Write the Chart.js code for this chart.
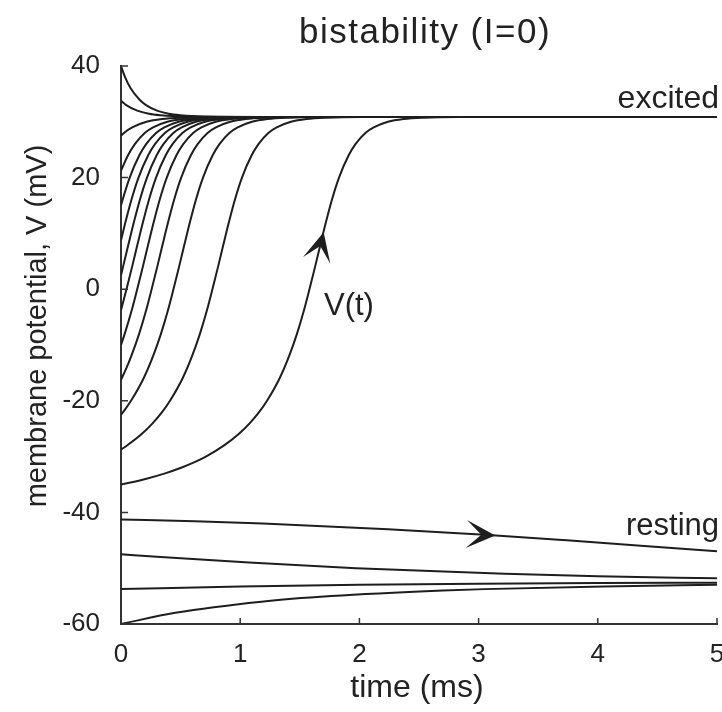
<!DOCTYPE html>
<html>
<head>
<meta charset="utf-8">
<title>bistability (I=0)</title>
<script src="https://cdn.jsdelivr.net/npm/chart.js@4.4.1/dist/chart.umd.min.js"></script>
<style>
  html, body { margin: 0; padding: 0; background: #fff; }
  #wrap { width: 722px; height: 712px; }
</style>
</head>
<body>
<div id="wrap"><canvas id="chart" width="722" height="712"></canvas></div>
<script>
// ---------------------------
// Axis ticks
// ---------------------------
const timeTicks = [0, 1, 2, 3, 4, 5];
const voltTicks = [-60, -40, -20, 0, 20, 40];

// ---------------------------
// Trajectories V(t) as [time (ms), V (mV)]
// ---------------------------
const fromV40 = [[0, 40], [0.034, 38], [0.081, 36], [0.154, 34], [0.210, 33], [0.302, 32], [0.4, 31.45], [0.5, 31.17], [0.6, 31.02], [0.8, 30.9], [1.2, 30.86], [5, 30.86]];
const fromV34 = [[0, 33.75], [0.044, 33], [0.136, 32], [0.234, 31.45], [0.334, 31.17], [0.434, 31.02], [0.634, 30.9], [1.034, 30.86], [5, 30.86]];
const fromV28 = [[0, 27.5], [0.024, 28], [0.094, 29], [0.214, 30], [0.344, 30.5], [0.514, 30.74], [0.814, 30.84], [5, 30.86]];
const fromV21 = [[0, 21.25], [0.059, 24], [0.116, 26], [0.199, 28], [0.269, 29], [0.389, 30], [0.519, 30.5], [0.689, 30.74], [0.989, 30.84], [5, 30.86]];
const fromV15 = [[0, 15], [0.013, 16], [0.073, 20], [0.154, 24], [0.211, 26], [0.294, 28], [0.364, 29], [0.484, 30], [0.614, 30.5], [0.784, 30.74], [1.084, 30.84], [5, 30.86]];
const fromV9 = [[0, 8.75], [0.037, 12], [0.087, 16], [0.147, 20], [0.228, 24], [0.285, 26], [0.368, 28], [0.438, 29], [0.558, 30], [0.688, 30.5], [0.858, 30.74], [1.158, 30.84], [5, 30.86]];
const fromV3 = [[0, 2.5], [0.017, 4], [0.062, 8], [0.108, 12], [0.158, 16], [0.218, 20], [0.299, 24], [0.356, 26], [0.439, 28], [0.509, 29], [0.629, 30], [0.759, 30.5], [0.929, 30.74], [1.229, 30.84], [5, 30.86]];
const fromVm4 = [[0, -3.75], [0.046, 0], [0.093, 4], [0.138, 8], [0.184, 12], [0.234, 16], [0.294, 20], [0.375, 24], [0.432, 26], [0.515, 28], [0.585, 29], [0.705, 30], [0.835, 30.5], [1.005, 30.74], [1.305, 30.84], [5, 30.86]];
const fromVm10 = [[0, -10], [0.031, -8], [0.087, -4], [0.136, 0], [0.183, 4], [0.228, 8], [0.274, 12], [0.324, 16], [0.384, 20], [0.465, 24], [0.522, 26], [0.605, 28], [0.675, 29], [0.795, 30], [0.925, 30.5], [1.095, 30.74], [1.395, 30.84], [5, 30.86]];
const fromVm16 = [[0, -16.25], [0.048, -14], [0.086, -12], [0.152, -8], [0.208, -4], [0.257, 0], [0.304, 4], [0.349, 8], [0.395, 12], [0.445, 16], [0.505, 20], [0.586, 24], [0.643, 26], [0.726, 28], [0.796, 29], [0.916, 30], [1.046, 30.5], [1.216, 30.74], [1.516, 30.84], [5, 30.86]];
const fromVm23 = [[0, -22.5], [0.019, -22], [0.084, -20], [0.189, -16], [0.269, -12], [0.335, -8], [0.391, -4], [0.440, 0], [0.487, 4], [0.532, 8], [0.578, 12], [0.628, 16], [0.688, 20], [0.769, 24], [0.826, 26], [0.909, 28], [0.979, 29], [1.099, 30], [1.229, 30.5], [1.399, 30.74], [1.699, 30.84], [5, 30.86]];
const fromVm29 = [[0, -28.75], [0.051, -28], [0.171, -26], [0.267, -24], [0.346, -22], [0.411, -20], [0.516, -16], [0.596, -12], [0.662, -8], [0.718, -4], [0.767, 0], [0.814, 4], [0.859, 8], [0.905, 12], [0.955, 16], [1.015, 20], [1.096, 24], [1.153, 26], [1.236, 28], [1.306, 29], [1.426, 30], [1.556, 30.5], [1.726, 30.74], [2.026, 30.84], [5, 30.86]];
const fromVm35 = [[0, -35], [0.206, -34], [0.370, -33], [0.504, -32], [0.617, -31], [0.712, -30], [0.865, -28], [0.985, -26], [1.081, -24], [1.160, -22], [1.225, -20], [1.330, -16], [1.410, -12], [1.476, -8], [1.532, -4], [1.581, 0], [1.628, 4], [1.673, 8], [1.719, 12], [1.769, 16], [1.829, 20], [1.910, 24], [1.967, 26], [2.050, 28], [2.120, 29], [2.240, 30], [2.370, 30.5], [2.540, 30.74], [2.840, 30.84], [5, 30.86]];
const fromVm41 = [[0, -41.25], [0.62, -41.6], [1.19, -42], [2.24, -43], [3.05, -44], [3.74, -45], [4.39, -46], [5, -46.97]];
const fromVm48 = [[0, -47.5], [0.333, -48], [1.075, -49], [1.972, -50], [3.218, -51], [4, -51.44], [5, -51.82]];
const fromVm54 = [[0, -53.75], [1, -53.26], [2, -52.96], [3, -52.78], [4, -52.67], [5, -52.6]];
const fromVm60 = [[0, -60], [0.455, -58], [1.178, -56], [1.764, -55], [2.70, -54], [3.05, -53.75], [4.05, -53.26], [5, -52.97]];

const trajectories = [fromV40, fromV34, fromV28, fromV21, fromV15, fromV9, fromV3, fromVm4,
    fromVm10, fromVm16, fromVm23, fromVm29, fromVm35, fromVm41, fromVm48, fromVm54, fromVm60];

// arrowheads on two trajectories: [tip t, tip V, back t, back V]
const arrowMarks = [[1.70, 10.2, 1.655, 6.3], [3.14, -44.13, 2.80, -43.76]];

// ---------------------------
// Drawing helpers
// ---------------------------
const FONT = '"Liberation Sans", Arial, Helvetica, sans-serif';
const INK = "#1e1e1e";

function drawStealth(ctx, tipX, tipY, backX, backY) {
    const ang = Math.atan2(tipY - backY, tipX - backX);
    const L = 29, W = 14, N = 15;
    ctx.save();
    ctx.translate(tipX, tipY);
    ctx.rotate(ang);
    ctx.beginPath();
    ctx.moveTo(0, 0);
    ctx.lineTo(-L, -W);
    ctx.lineTo(-L + N, 0);
    ctx.lineTo(-L, W);
    ctx.closePath();
    ctx.fill();
    ctx.restore();
}

const decorPlugin = {
    id: "decor",
    afterDraw(chart) {
        const { ctx, chartArea: a, scales: { x, y } } = chart;
        ctx.save();

        // inward tick marks
        ctx.strokeStyle = "#333";
        ctx.lineWidth = 1.5;
        ctx.beginPath();
        timeTicks.forEach(t => {
            const px = x.getPixelForValue(t);
            ctx.moveTo(px, a.bottom);
            ctx.lineTo(px, a.bottom - 6);
        });
        voltTicks.forEach(v => {
            const py = y.getPixelForValue(v);
            ctx.moveTo(a.left, py);
            ctx.lineTo(a.left + 7, py);
        });
        ctx.stroke();

        // arrowheads
        ctx.fillStyle = INK;
        arrowMarks.forEach(([t1, v1, t0, v0]) => {
            drawStealth(ctx, x.getPixelForValue(t1), y.getPixelForValue(v1),
                x.getPixelForValue(t0), y.getPixelForValue(v0));
        });

        // texts
        ctx.fillStyle = "#222";
        ctx.textBaseline = "alphabetic";

        ctx.font = `35px ${FONT}`;
        ctx.textAlign = "center";
        ctx.letterSpacing = "1.5px";
        ctx.fillText("bistability (I=0)", 425, 43);
        ctx.letterSpacing = "0px";

        ctx.font = `32px ${FONT}`;
        ctx.textAlign = "right";
        ctx.fillText("excited", 719, 108);
        ctx.font = `31px ${FONT}`;
        ctx.fillText("resting", 719, 535);
        ctx.textAlign = "left";
        ctx.fillText("V(t)", 324, 315);

        ctx.font = `32px ${FONT}`;
        ctx.textAlign = "center";
        ctx.fillText("time (ms)", 417, 697);

        ctx.save();
        ctx.translate(46, 326);
        ctx.rotate(-Math.PI / 2);
        ctx.font = `29px ${FONT}`;
        ctx.fillText("membrane potential, V (mV)", 0, 0);
        ctx.restore();

        ctx.restore();
    }
};

// ---------------------------
// Chart
// ---------------------------
const datasets = trajectories.map(tr => ({
    data: tr.map(([t, v]) => ({ x: t, y: v })),
    borderColor: INK,
    borderWidth: 2,
    pointRadius: 0,
    fill: false,
    cubicInterpolationMode: "monotone"
}));

new Chart(document.getElementById("chart").getContext("2d"), {
    type: "line",
    data: { datasets },
    plugins: [decorPlugin],
    options: {
        responsive: false,
        animation: false,
        events: [],
        layout: { padding: { top: 66, right: 5, left: 0, bottom: 0 } },
        plugins: {
            legend: { display: false },
            tooltip: { enabled: false },
            colors: { enabled: false }
        },
        scales: {
            x: {
                type: "linear",
                min: 0,
                max: 5,
                afterBuildTicks: s => { s.ticks = timeTicks.map(v => ({ value: v })); },
                grid: { display: false, drawTicks: false },
                border: { display: true, color: "#333", width: 2 },
                ticks: { padding: 15, color: "#222", font: { family: FONT, size: 26 }, maxRotation: 0, autoSkip: false },
                afterFit: s => { s.height = 88; s.paddingLeft = 0; s.paddingRight = 0; }
            },
            y: {
                type: "linear",
                min: -60,
                max: 40,
                afterBuildTicks: s => { s.ticks = voltTicks.map(v => ({ value: v })); },
                grid: { display: false, drawTicks: false },
                border: { display: true, color: "#333", width: 2 },
                ticks: { padding: 21, color: "#222", font: { family: FONT, size: 26 }, autoSkip: false },
                afterFit: s => { s.width = 121; s.paddingTop = 0; s.paddingBottom = 0; }
            }
        }
    }
});
</script>
</body>
</html>
